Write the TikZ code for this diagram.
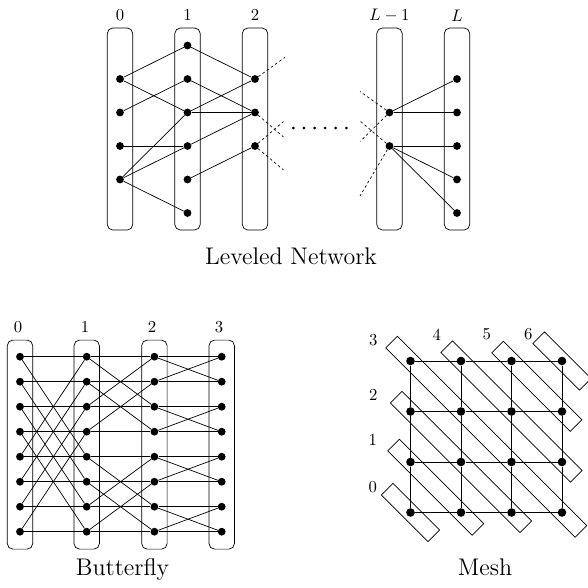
\documentclass[tikz,border=0pt]{standalone}
\begin{document}
\begin{tikzpicture}[x=1pt,y=-1pt,
  edge/.style={line width=0.7pt},
  dot/.style={circle,fill,inner sep=0pt,minimum size=7.8pt},
  mdot/.style={circle,fill,inner sep=0pt,minimum size=8.6pt},
  column/.style={draw,line width=0.7pt,rounded corners=5.5pt,minimum width=25.4pt,inner sep=0pt},
  diag/.style={draw,line width=0.7pt,rotate=-45,minimum height=16.4pt,inner sep=0pt},
  lbl/.style={inner sep=0pt,scale=1.67},
  caption/.style={inner sep=0pt,anchor=base,scale=1.67,font=\Large},
  ghost/.style={line width=0.65pt,dash pattern=on 2.6pt off 2.6pt},
  smalldot/.style={circle,fill,inner sep=0pt,minimum size=3pt}]
\useasboundingbox (0,0) rectangle (588,587);

% ---------------- Leveled network ----------------
\foreach \n/\x in {0/120,1/187.5,2/255,p/389.5,q/457}
  \node[column,minimum height=202pt] (col\n) at (\x,129) {};
\foreach \n/\x/\t in {0/120/$0$,1/187.5/$1$,2/255/$2$,p/389.5/$L-1$,q/457/$L$}
  \node[lbl] (lab\n) at (\x,15.3) {\t};

\foreach \k in {1,...,4} \node[dot] (a0-\k) at (120,{45.5+33.5*\k}) {};
\foreach \k in {0,...,5} \node[dot] (a1-\k) at (187.5,{45.5+33.5*\k}) {};
\foreach \k in {1,...,3} \node[dot] (a2-\k) at (255,{45.5+33.5*\k}) {};
\foreach \k in {2,3}     \node[dot] (ap-\k) at (389.5,{45.5+33.5*\k}) {};
\foreach \k in {1,...,5} \node[dot] (aq-\k) at (457,{45.5+33.5*\k}) {};

\foreach \u/\v in {0-1/1-0,0-1/1-2,0-2/1-1,0-3/1-3,0-4/1-2,0-4/1-3,0-4/1-5,
                   1-0/2-1,1-1/2-2,1-2/2-1,1-2/2-2,1-3/2-2,1-4/2-3,
                   p-2/q-1,p-2/q-2,p-3/q-3,p-3/q-4,p-3/q-5}
  \draw[edge] (a\u) -- (a\v);

% links leaving towards the omitted levels
\coordinate (r1) at (285,57.3);
\coordinate (r2) at (283.5,137);
\coordinate (r3) at (283.5,121.5);
\coordinate (r4) at (283.5,170);
\draw[ghost] (a2-1) -- (r1);
\draw[ghost] (a2-2) -- (r2);
\draw[ghost] (a2-3) -- (r3);
\draw[ghost] (a2-3) -- (r4);
\coordinate (s1) at (360,91.5);
\coordinate (s2) at (360,141.5);
\coordinate (s3) at (360,121);
\coordinate (s4) at (360,196);
\draw[ghost] (ap-2) -- (s1);
\draw[ghost] (ap-2) -- (s2);
\draw[ghost] (ap-3) -- (s3);
\draw[ghost] (ap-3) -- (s4);

\foreach \i in {0,...,5}
  \node[smalldot] (gap\i) at ({293.3+10.6*\i},128) {};

\node[caption] (capA) at (291,264.3) {Leveled Network};

% ---------------- Butterfly ----------------
\foreach \c/\x/\lx in {0/20/18,1/86.7/85,2/154.4/152,3/221.7/219} {
  \node[column,minimum height=209pt] (bcol\c) at (\x,444.6) {};
  \node[lbl] (blab\c) at (\lx,327.5) {$\c$};
  \foreach \r in {0,...,7}
    \node[dot] (b\c-\r) at (\x,{356.7+25*\r}) {};
}
\foreach \c/\n/\s in {0/1/4,1/2/2,2/3/1}
  \foreach \r in {0,...,7} {
    \pgfmathtruncatemacro\p{mod(floor(\r/\s),2)==0 ? \r+\s : \r-\s}
    \draw[edge] (b\c-\r) -- (b\n-\r);
    \draw[edge] (b\c-\r) -- (b\n-\p);
  }
\node[caption] (capB) at (122.5,575.5) {Butterfly};

% ---------------- Mesh ----------------
\foreach \d/\cx/\cy/\len in {0/410.5/512.5/66,1/435.75/487.25/119.4,
    2/461/462/183.4,3/486.25/436.75/267.8,4/511.5/411.5/183.4,
    5/536.75/386.25/111,6/562/361/66}
  \node[diag,minimum width=\len pt] (diag\d) at (\cx,\cy) {};

\foreach \i in {0,...,3}
  \foreach \j in {0,...,3}
    \node[mdot] (m\i-\j) at ({410.5+50.5*\i},{361+50.5*\j}) {};
\foreach \i/\ii in {0/1,1/2,2/3}
  \foreach \j in {0,...,3} {
    \draw[edge] (m\i-\j) -- (m\ii-\j);
    \draw[edge] (m\j-\i) -- (m\j-\ii);
  }

\foreach \d/\lx/\ly in {0/372.7/487.3,1/372.7/440,2/373.3/395,3/373.3/340,
                        4/436.7/335,5/486.7/334,6/528.3/334}
  \node[lbl] (mlab\d) at (\lx,\ly) {$\d$};

\node[caption] (capC) at (485,575.5) {Mesh};
\end{tikzpicture}
\end{document}
